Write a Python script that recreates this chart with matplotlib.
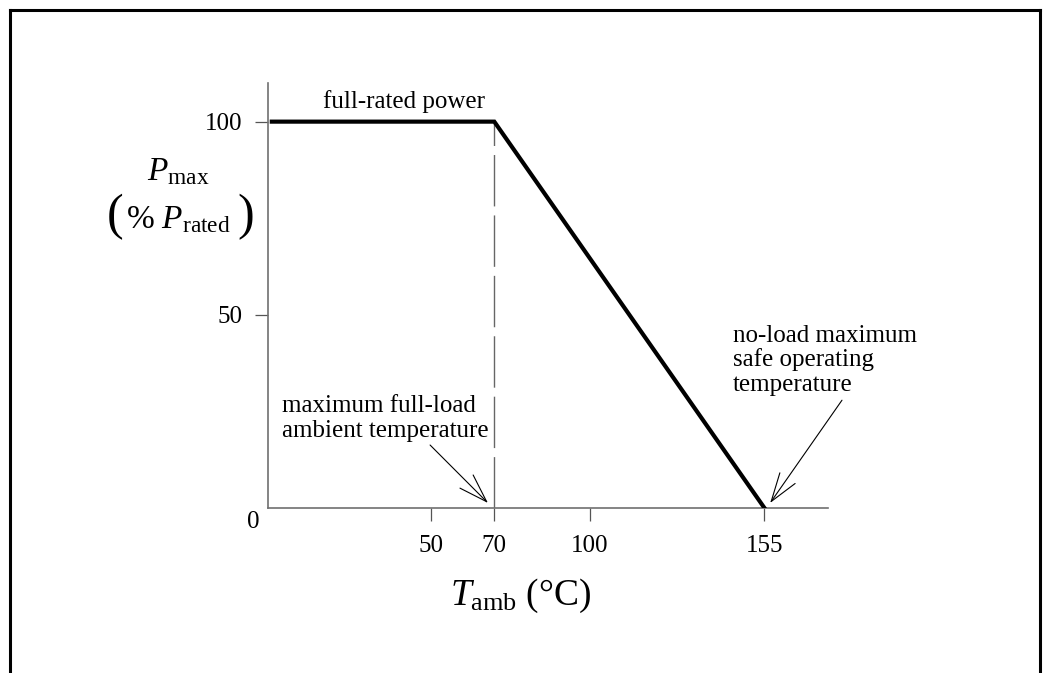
import matplotlib
matplotlib.use("Agg")
import matplotlib.pyplot as plt
from matplotlib.lines import Line2D

# derating curve: ambient temperature (°C) vs max power (% of rated)
t_amb = [0, 70, 155]
p_max = [100, 100, 0]

x_ticks = [50, 70, 100, 155]
y_ticks = [50, 100]
knee_t = 70
knee_p = 100

plt.rcParams["font.family"] = ["Liberation Serif", "DejaVu Serif"]
plt.rcParams["mathtext.fontset"] = "custom"
plt.rcParams["mathtext.rm"] = "Liberation Serif"
plt.rcParams["mathtext.it"] = "Liberation Serif:italic"

fig = plt.figure(figsize=(10.47, 6.73), dpi=100)
W, H = 1047, 673


def px(x, y):
    # pixel position (from top-left) -> figure fraction
    return x / W, 1 - y / H


ax = fig.add_axes([268 / W, 1 - 508 / H, 560 / W, 425 / H])

axis_gray = "#707070"

# dashed guide at the knee
ax.plot([knee_t, knee_t], [0, knee_p], color="#666666", lw=1.0,
        dashes=(37, 6.5), zorder=2)
ax.plot(t_amb, p_max, color="black", lw=3, solid_joinstyle="miter", zorder=3)

ax.set_xlim(-1.2, 175)
ax.set_ylim(0, 110)

for s in ["top", "right"]:
    ax.spines[s].set_visible(False)
for s in ["left", "bottom"]:
    ax.spines[s].set_color(axis_gray)
    ax.spines[s].set_linewidth(1.2)

ax.set_xticks(x_ticks)
ax.set_yticks(y_ticks)
ax.tick_params(axis="both", direction="out", length=9.5, width=0.9,
               color="#555555", labelsize=18)
ax.tick_params(axis="x", pad=10)
ax.tick_params(axis="y", pad=9)

ax.annotate("0", xy=(0, 0), xycoords="data", xytext=(-9, -10),
            textcoords="offset points", ha="right", va="center", fontsize=18)

# axis titles
fig.text(*px(147, 180), r"$P_{\mathrm{max}}$", ha="left", va="baseline",
         fontsize=24)
fig.text(*px(107, 229), "(", ha="left", va="baseline", fontsize=36)
fig.text(*px(126, 228), r"$\%\ P_{\mathrm{rated}}$", ha="left",
         va="baseline", fontsize=24)
fig.text(*px(254, 229), ")", ha="right", va="baseline", fontsize=36)
fig.text(*px(450, 605), r"$T_{\mathrm{amb}}\ (°\mathrm{C})$", ha="left",
         va="baseline", fontsize=27)

# annotations
fig.text(*px(404, 108), "full-rated power", ha="center", va="baseline",
         fontsize=18)

lines_left = ["maximum full-load", "ambient temperature"]
for i, s in enumerate(lines_left):
    fig.text(*px(282, 412 + 25 * i), s, ha="left", va="baseline", fontsize=18)

lines_right = ["no-load maximum", "safe operating", "temperature"]
for i, s in enumerate(lines_right):
    fig.text(*px(733, 342 + 24.5 * i), s, ha="left", va="baseline", fontsize=18)

arrow = dict(arrowstyle="->,head_length=2.05,head_width=0.67", lw=0.8,
             color="black", shrinkA=0, shrinkB=0, mutation_scale=10)
ax.annotate("", xy=(68.0, 1.3), xytext=(49.8, 16.3), arrowprops=arrow,
            annotation_clip=False)
ax.annotate("", xy=(156.8, 1.3), xytext=(179.4, 27.9), arrowprops=arrow,
            annotation_clip=False)

# page frame (open at the bottom)
frame = dict(color="black", lw=2.2, transform=fig.transFigure)
fig.add_artist(Line2D([9.5 / W, 9.5 / W], [0, 1 - 9.5 / H], **frame))
fig.add_artist(Line2D([9.5 / W, 1040 / W], [1 - 9.5 / H, 1 - 9.5 / H], **frame))
fig.add_artist(Line2D([1040 / W, 1040 / W], [0, 1 - 9.5 / H], **frame))

fig.savefig("out.png", dpi=100)
